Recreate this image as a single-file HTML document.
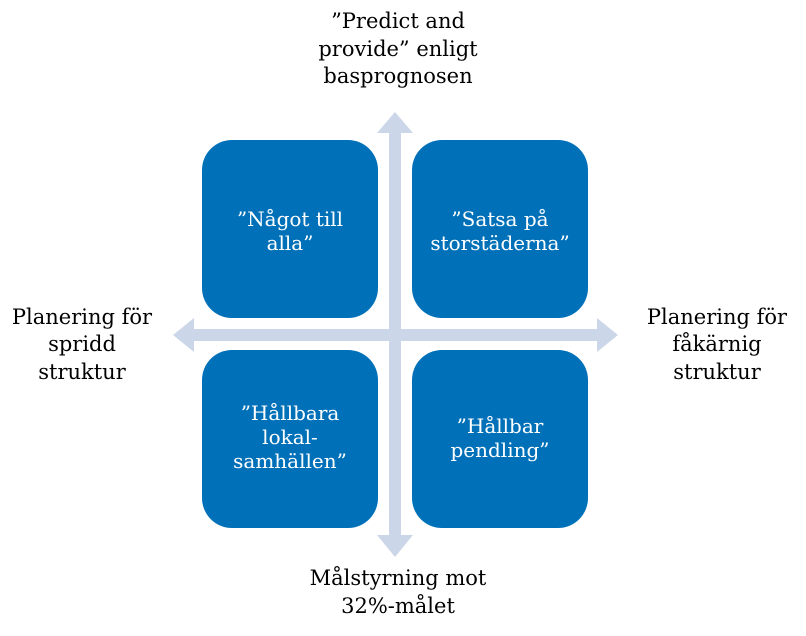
<!DOCTYPE html>
<html><head><meta charset="utf-8"><style>
body{margin:0;background:#fff}
svg text{font-family:"DejaVu Serif","Liberation Serif",serif;font-size:21px;text-anchor:middle}
.w{fill:#fff;font-size:20px}
</style></head><body>
<svg width="806" height="631" viewBox="0 0 806 631" xmlns="http://www.w3.org/2000/svg">
<g fill="#cbd7e8">
<rect x="389" y="130" width="12" height="408"/>
<polygon points="395,112 413,133 377,133"/>
<polygon points="395,557 413,535 377,535"/>
<rect x="192" y="329" width="408" height="12"/>
<polygon points="173,335 194,318 194,352"/>
<polygon points="618,335 597,318 597,352"/>
</g>
<g fill="#0070b8">
<rect x="202" y="140" width="176" height="178" rx="30"/>
<rect x="412" y="140" width="176" height="178" rx="30"/>
<rect x="202" y="350" width="176" height="178" rx="30"/>
<rect x="412" y="350" width="176" height="178" rx="30"/>
</g>
<text class="w" x="290" y="226">”Något till</text>
<text class="w" x="290" y="250">alla”</text>
<text class="w" x="500" y="226">”Satsa på</text>
<text class="w" x="500" y="250">storstäderna”</text>
<text class="w" x="290" y="420">”Hållbara</text>
<text class="w" x="290" y="444">lokal-</text>
<text class="w" x="290" y="468">samhällen”</text>
<text class="w" x="500" y="433">”Hållbar</text>
<text class="w" x="500" y="457">pendling”</text>
<text x="398" y="28">”Predict and</text>
<text x="398" y="56">provide” enligt</text>
<text x="398" y="83">basprognosen</text>
<text x="82" y="324">Planering för</text>
<text x="82" y="351">spridd</text>
<text x="82" y="379">struktur</text>
<text x="717" y="324">Planering för</text>
<text x="717" y="351">fåkärnig</text>
<text x="717" y="379">struktur</text>
<text x="398" y="585">Målstyrning mot</text>
<text x="398" y="613">32%-målet</text>
</svg>
</body></html>
